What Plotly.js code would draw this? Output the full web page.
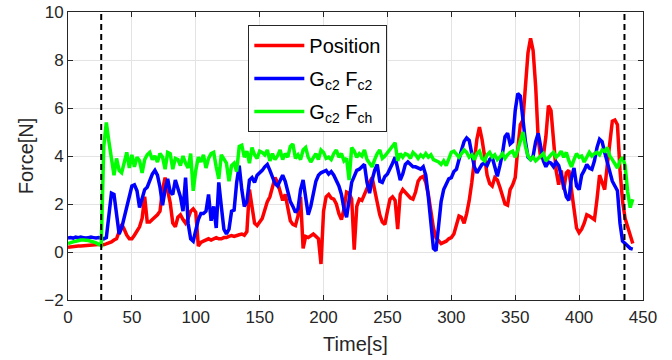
<!DOCTYPE html>
<html>
<head>
<meta charset="utf-8">
<script src="https://cdn.plot.ly/plotly-3.0.1.min.js"></script>
<style>
  html, body { margin: 0; padding: 0; background: #ffffff; }
  #chart { width: 672px; height: 360px; }
</style>
</head>
<body>
<div id="chart"></div>
<script>
// ---- data ----
const time = [
  0,2,4,6,8,10,12,14,16,18,20,22,24,26,28,30,32,34,36,38,
  40,42,44,46,48,50,52,54,56,58,60,62,64,66,68,70,72,74,76,78,
  80,82,84,86,88,90,92,94,96,98,100,102,104,106,108,110,112,114,116,118,
  120,122,124,126,128,130,132,134,136,138,140,142,144,146,148,150,152,154,156,158,
  160,162,164,166,168,170,172,174,176,178,180,182,184,186,188,190,192,194,196,198,
  200,202,204,206,208,210,212,214,216,218,220,222,224,226,228,230,232,234,236,238,
  240,242,244,246,248,250,252,254,256,258,260,262,264,266,268,270,272,274,276,278,
  280,282,284,286,288,290,292,294,296,298,300,302,304,306,308,310,312,314,316,318,
  320,322,324,326,328,330,332,334,336,338,340,342,344,346,348,350,352,354,356,358,
  360,362,364,366,368,370,372,374,376,378,380,382,384,386,388,390,392,394,396,398,
  400,402,404,406,408,410,412,414,416,418,420,422,424,426,428,430,432,434,436,438,
  440,442
];

const positionForce = [
  0.20,0.22,0.22,0.24,0.25,0.25,0.26,0.27,0.27,0.28,
  0.29,0.30,0.31,0.32,0.30,0.33,0.38,0.42,0.50,0.55,
  0.85,1.15,0.95,0.70,0.55,0.55,0.70,0.90,1.05,1.40,
  2.30,1.25,1.25,1.35,1.45,1.55,1.70,2.60,3.10,2.60,
  2.05,1.20,1.05,1.45,1.55,1.35,1.20,1.40,1.70,1.80,
  1.65,0.25,0.40,0.45,0.50,0.55,0.50,0.55,0.60,0.55,
  0.55,0.60,0.60,0.65,0.68,0.65,0.70,0.72,0.75,0.70,
  0.85,2.60,1.90,1.20,1.10,1.25,1.40,1.75,2.10,2.30,
  2.70,3.10,2.90,2.50,2.15,2.40,1.90,1.30,1.15,1.10,
  1.50,2.30,0.15,0.65,0.60,0.70,0.75,0.65,0.55,-0.50,
  1.70,2.30,2.40,2.25,2.20,2.00,1.60,1.35,1.80,2.50,
  2.45,2.20,0.10,1.90,2.20,2.15,2.40,2.70,2.90,3.10,
  2.60,2.15,1.55,1.25,1.15,1.70,2.20,2.30,2.15,0.95,
  2.40,2.60,2.50,2.40,2.25,2.20,2.50,2.95,3.10,3.15,
  2.90,2.40,1.60,1.00,0.60,0.45,0.35,0.40,0.45,0.55,
  0.60,0.75,1.10,1.50,1.45,1.20,1.60,2.15,2.90,3.90,
  4.70,5.20,4.70,4.00,3.20,2.85,2.75,3.10,3.00,2.70,
  2.40,2.00,1.95,2.60,2.80,3.10,4.30,5.30,5.50,6.80,
  8.30,8.90,8.40,6.90,4.70,3.90,4.00,4.80,6.10,5.90,
  4.50,3.40,2.80,3.40,2.60,3.30,3.40,2.60,1.90,1.00,
  0.80,0.95,1.20,1.55,1.50,1.40,1.35,2.20,3.20,2.90,
  2.60,3.60,4.70,5.45,5.50,5.30,3.40,2.10,1.40,1.05,
  0.80,0.35
];

const gc2Fc2 = [
  0.58,0.60,0.58,0.62,0.60,0.62,0.60,0.58,0.60,0.62,
  0.60,0.58,0.60,0.58,0.55,0.60,1.60,2.45,2.40,1.60,
  0.75,1.00,1.45,1.75,2.20,2.75,2.80,2.55,1.85,2.20,
  2.60,2.70,3.00,3.25,3.40,3.20,2.70,1.95,2.60,3.05,
  2.50,2.40,3.00,2.70,2.30,1.70,3.10,1.20,0.55,0.45,
  0.90,1.35,1.60,1.60,1.70,2.40,1.30,1.90,1.00,2.90,
  1.90,0.95,0.75,0.95,1.70,1.75,2.90,3.60,2.60,1.90,
  2.10,3.00,3.10,2.90,3.20,3.30,3.40,3.55,3.65,3.40,
  3.15,2.85,2.75,3.00,3.20,2.95,2.50,2.10,1.90,1.65,
  1.80,2.60,3.00,2.20,1.55,1.90,2.40,2.95,3.20,3.30,
  3.35,3.40,3.25,3.35,3.20,3.00,2.75,2.40,1.80,1.45,
  2.30,2.90,3.15,3.40,3.45,3.55,3.65,2.90,2.45,3.00,
  3.40,3.65,2.95,2.90,3.15,3.25,3.45,3.70,3.95,3.45,
  3.00,3.25,3.65,3.75,3.65,3.55,3.55,3.50,3.45,3.55,
  3.20,2.30,1.00,0.15,0.05,1.00,2.10,2.60,2.85,3.05,
  3.10,3.35,3.45,3.90,4.25,4.60,4.75,4.65,4.10,3.55,
  3.30,3.50,3.65,3.70,3.60,3.85,3.95,3.55,3.15,3.60,
  4.10,4.80,4.95,4.50,4.60,5.90,6.60,6.50,5.40,4.60,
  3.95,3.85,4.00,4.60,4.95,4.40,3.80,3.55,3.75,3.70,
  3.55,3.75,3.60,3.20,2.70,2.30,2.15,3.10,3.50,2.75,
  2.60,3.20,3.40,3.65,3.50,3.45,3.80,4.35,4.70,4.60,
  4.15,3.70,3.35,2.95,2.75,2.55,1.20,0.45,0.35,0.25,
  0.15,0.12
];

const gc2Fch = [
  0.35,0.40,0.42,0.45,0.48,0.50,0.50,0.50,0.48,0.45,
  0.42,0.38,0.32,0.28,4.40,5.40,4.60,3.80,3.20,3.90,
  3.40,3.30,3.70,4.15,3.50,4.05,3.55,3.95,3.80,3.30,
  3.85,4.05,4.15,3.85,4.00,3.75,4.10,3.95,3.45,4.15,
  4.10,3.45,3.90,3.85,3.60,4.00,3.70,3.50,4.10,2.55,
  3.40,3.95,3.75,4.05,3.50,3.90,4.10,4.15,3.55,3.05,
  4.05,3.85,3.70,2.95,3.60,3.70,3.35,4.40,4.45,3.95,
  4.20,3.70,4.35,4.05,3.90,4.20,4.15,4.05,4.25,3.80,
  4.10,3.85,4.00,4.25,3.85,4.10,3.95,4.40,4.50,3.90,
  4.05,3.85,4.25,4.35,3.95,3.75,3.95,4.10,3.85,4.25,
  4.15,3.90,3.95,3.85,4.10,4.25,3.95,4.10,3.80,3.90,
  3.00,4.35,4.20,3.95,4.10,4.00,4.25,3.85,3.70,3.55,
  3.85,4.10,4.25,3.90,4.00,4.15,4.30,4.45,4.55,3.80,
  4.10,3.95,4.10,4.05,3.90,4.15,4.05,3.90,4.05,3.95,
  4.10,3.95,4.05,3.85,3.80,3.75,3.65,3.80,3.60,3.85,
  4.15,4.20,4.05,3.95,4.10,4.25,4.15,3.95,4.05,3.85,
  4.10,4.20,3.90,3.80,4.05,4.15,3.95,4.05,3.85,3.95,
  4.10,3.90,4.05,4.15,4.20,3.95,4.25,4.70,5.00,4.40,
  4.00,3.85,3.95,3.80,3.90,4.00,4.10,3.80,3.95,4.05,
  4.15,3.95,4.05,4.20,3.95,4.15,3.80,3.55,3.85,4.10,
  3.95,4.00,3.75,3.95,4.15,4.00,4.10,4.15,4.05,4.25,
  4.20,4.35,4.00,3.85,3.70,3.50,3.80,3.95,3.60,2.50,
  1.85,2.20
];

const seriesNames = ['Position', 'G<sub>c2</sub> F<sub>c2</sub>', 'G<sub>c2</sub> F<sub>ch</sub>'];
const phaseMarks = [26, 435.5];
const xTicks = [0, 50, 100, 150, 200, 250, 300, 350, 400, 450];
const yTicks = [-2, 0, 2, 4, 6, 8, 10];

// ---- styles ----
const colors = ['#ff0000', '#0000ff', '#00ff00'];
const FONT = 'Liberation Sans, Arial, Helvetica, sans-serif';
const AX = '#262626';

const traces = [positionForce, gc2Fc2, gc2Fch].map((vals, i) => ({
  type: 'scatter',
  mode: 'lines',
  x: time,
  y: vals,
  name: seriesNames[i],
  legendgroup: 'g' + i,
  line: { color: colors[i], width: 3.5 }
}));

const shapes = phaseMarks.map(t => ({
  type: 'line', xref: 'x', yref: 'paper',
  x0: t, x1: t, y0: 0, y1: 1,
  line: { color: '#000000', width: 2, dash: '6px,4px' }
}));

const axisCommon = {
  showline: true, linecolor: AX, linewidth: 1, mirror: 'ticks',
  ticks: 'inside', ticklen: 5, tickcolor: AX, tickwidth: 1,
  showgrid: true, gridcolor: '#e3e3e3', gridwidth: 1,
  zeroline: false,
  tickfont: { family: FONT, size: 17, color: AX }
};

const layout = {
  width: 672, height: 360,
  margin: { l: 68, r: 29, t: 12, b: 60, pad: 0 },
  paper_bgcolor: '#ffffff', plot_bgcolor: '#ffffff',
  font: { family: FONT, color: AX },
  showlegend: true,
  xaxis: Object.assign({}, axisCommon, {
    range: [0, 450], tickmode: 'array', tickvals: xTicks,
    ticklabelstandoff: 2,
    title: { text: 'Time[s]', font: { family: FONT, size: 20, color: AX }, standoff: 10 }
  }),
  yaxis: Object.assign({}, axisCommon, {
    range: [-2, 10], tickmode: 'array', tickvals: yTicks,
    title: { text: 'Force[N]', font: { family: FONT, size: 20, color: AX }, standoff: 5 }
  }),
  legend: {
    x: 0.3136, y: 0.955, xanchor: 'left', yanchor: 'top',
    bgcolor: '#ffffff', bordercolor: AX, borderwidth: 1,
    font: { family: FONT, size: 20, color: '#000000' },
    traceorder: 'grouped', tracegroupgap: 4,
    itemwidth: 50
  },
  shapes: shapes
};

Plotly.newPlot('chart', traces, layout, { staticPlot: true, displayModeBar: false });
</script>
</body>
</html>
